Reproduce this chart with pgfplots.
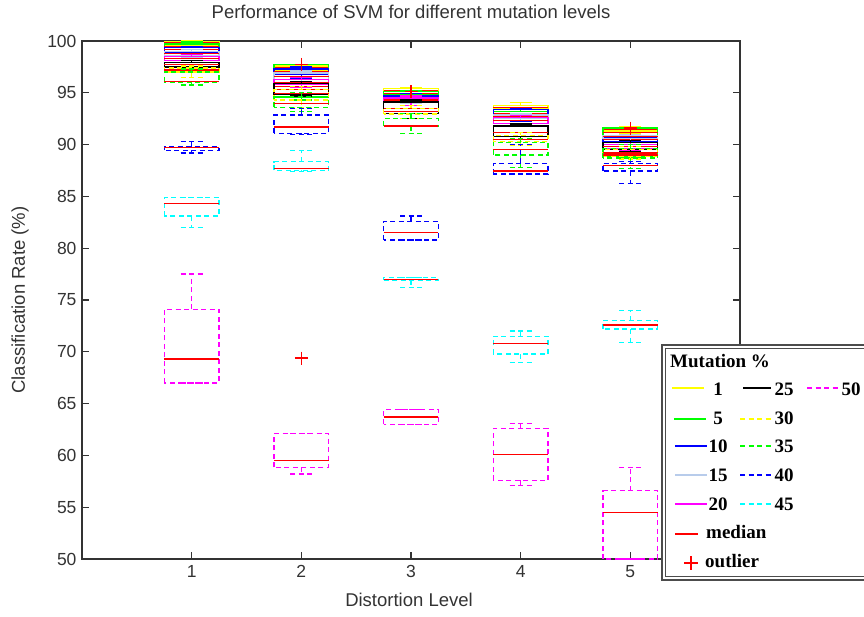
\documentclass[border=0pt]{standalone}
\usepackage{pgfplots}
\pgfplotsset{compat=1.18}
\usepgfplotslibrary{statistics}
\usepackage{fontspec}
\setmainfont{Liberation Sans}
\newfontfamily\legendfont{Liberation Serif}

\definecolor{cYel}{rgb}{1,1,0}
\definecolor{cGrn}{rgb}{0,1,0}
\definecolor{cBlu}{rgb}{0,0,1}
\definecolor{cLbl}{rgb}{0.72,0.80,0.92}
\definecolor{cMag}{rgb}{1,0,1}
\definecolor{cCyn}{rgb}{0,1,1}
\definecolor{cRed}{rgb}{1,0,0}
\definecolor{axgray}{rgb}{0.2,0.2,0.2}

% one prepared box: style, position, lower whisker, q1, median, q3, upper whisker
\newcommand{\bx}[7]{%
  \addplot[#1, boxplot prepared={draw position=#2, lower whisker=#3,
    lower quartile=#4, median=#5, upper quartile=#6, upper whisker=#7}]
    coordinates {};}

\tikzset{dsh/.style={dash pattern=on 5pt off 3.5pt}}

\pgfplotsset{
  mbox/.style={line width=1.3pt, boxplot/draw direction=y,
    boxplot/box extend=0.5, boxplot/whisker extend=0.2,
    boxplot/every box/.style={line width=1.3pt},
    boxplot/every whisker/.style={line width=1.3pt},
    boxplot/every median/.style={draw=cRed, solid, line width=1.3pt}},
  m1/.style={mbox, color=cYel, solid},
  m5/.style={mbox, color=cGrn, solid},
  m10/.style={mbox, color=cBlu, solid},
  m15/.style={mbox, color=cLbl, solid},
  m20/.style={mbox, color=cMag, solid},
  m25/.style={mbox, color=black, solid},
  m30/.style={mbox, color=cYel, dsh},
  m35/.style={mbox, color=cGrn, dsh},
  m40/.style={mbox, color=cBlu, dsh},
  m45/.style={mbox, color=cCyn, dsh},
  m50/.style={mbox, color=cMag, dsh},
}

\newcommand{\lf}{\legendfont\bfseries\fontsize{19}{22}\selectfont}

\begin{document}
\begin{tikzpicture}
\path[use as bounding box] (-82pt,-57pt) rectangle (782pt,559pt);
\begin{axis}[
  at={(0pt,0pt)}, anchor=south west,
  width=658pt, height=518pt, scale only axis,
  xmin=0, xmax=6, ymin=50, ymax=100,
  xtick={1,2,3,4,5}, ytick={50,55,...,100},
  tick align=inside, tick pos=both,
  major tick length=7pt,
  axis line style={draw=axgray, line width=1.1pt},
  every tick/.style={draw=axgray, line width=1.1pt},
  /pgf/number format/assume math mode=true,
  tick label style={font=\fontsize{17.5}{20}\selectfont, text=axgray},
  yticklabel style={xshift=-2pt},
  xticklabel style={yshift=-3pt},
  title={Performance of SVM for different mutation levels},
  title style={at={(axis description cs:0.5,1.044)}, anchor=center,
    font=\fontsize{18.5}{22}\selectfont, text=axgray},
  xlabel={Distortion Level},
  ylabel={Classification Rate (\%)},
  every axis x label/.style={at={(axis description cs:0.497,-0.079)}, anchor=center,
    font=\fontsize{18.5}{22}\selectfont, text=axgray},
  every axis y label/.style={at={(axis description cs:-0.094,0.5)}, anchor=center,
    rotate=90, font=\fontsize{18.5}{22}\selectfont, text=axgray},
  clip=true,
]
% mutation 1 %
\bx{m1}{1}{99.4}{99.6}{99.8}{99.95}{100}
\bx{m1}{2}{96.8}{97.2}{97.4}{97.6}{97.7}
\bx{m1}{3}{94.9}{95.1}{95.25}{95.4}{95.5}
\bx{m1}{4}{93.4}{93.5}{93.6}{93.75}{94.05}
\bx{m1}{5}{91.1}{91.3}{91.45}{91.6}{91.7}
% mutation 5 %
\bx{m5}{1}{99.0}{99.2}{99.45}{99.7}{99.9}
\bx{m5}{2}{94.3}{94.6}{95.6}{97.7}{97.7}
\bx{m5}{3}{94.6}{94.8}{94.9}{95.1}{95.2}
\bx{m5}{4}{92.6}{92.8}{93.0}{93.2}{93.4}
\bx{m5}{5}{88.8}{88.85}{91.2}{91.6}{91.6}
% mutation 10 %
\bx{m10}{1}{98.7}{98.9}{99.2}{99.4}{99.5}
\bx{m10}{2}{96.4}{96.8}{97.0}{97.3}{97.5}
\bx{m10}{3}{94.2}{94.4}{94.55}{94.7}{94.9}
\bx{m10}{4}{92.2}{92.5}{92.9}{93.4}{93.5}
\bx{m10}{5}{90.0}{90.3}{90.5}{90.7}{90.9}
% mutation 15 %
\bx{m15}{1}{98.4}{98.6}{98.8}{99.0}{99.2}
\bx{m15}{2}{95.9}{96.3}{96.55}{96.9}{97.1}
\bx{m15}{3}{94.0}{94.2}{94.35}{94.5}{94.7}
\bx{m15}{4}{92.3}{92.5}{92.7}{92.85}{93.0}
\bx{m15}{5}{90.4}{90.6}{90.75}{90.9}{91.0}
% mutation 20 %
\bx{m20}{1}{97.9}{98.1}{98.3}{98.5}{98.7}
\bx{m20}{2}{95.5}{95.8}{96.0}{96.3}{96.5}
\bx{m20}{3}{93.8}{94.1}{94.3}{94.5}{94.7}
\bx{m20}{4}{91.9}{92.05}{92.3}{92.6}{92.8}
\bx{m20}{5}{89.4}{89.6}{89.8}{90.0}{90.2}
% mutation 25 %
\bx{m25}{1}{97.2}{97.5}{97.7}{97.9}{98.1}
\bx{m25}{2}{94.7}{94.85}{95.3}{95.9}{96.1}
\bx{m25}{3}{92.55}{93.0}{93.5}{94.1}{94.3}
\bx{m25}{4}{90.5}{90.75}{91.2}{91.8}{92.0}
\bx{m25}{5}{89.3}{89.5}{89.85}{90.2}{90.4}
% mutation 30 %
\bx{m30}{1}{96.5}{97.0}{97.2}{97.4}{97.6}
\bx{m30}{2}{93.6}{94.3}{94.9}{95.3}{95.6}
\bx{m30}{3}{92.5}{92.95}{93.2}{93.5}{93.8}
\bx{m30}{4}{89.9}{90.3}{90.5}{90.9}{91.2}
\bx{m30}{5}{88.6}{88.85}{89.2}{89.5}{89.8}
% mutation 35 %
\bx{m35}{1}{95.75}{96.05}{96.1}{97.0}{97.3}
\bx{m35}{2}{93.2}{93.6}{94.0}{94.6}{95.0}
\bx{m35}{3}{91.1}{91.8}{91.8}{92.5}{93.0}
\bx{m35}{4}{87.8}{89.0}{89.5}{90.2}{90.6}
\bx{m35}{5}{87.7}{88.7}{89.0}{89.6}{90.0}
% mutation 40 %
\bx{m40}{1}{89.2}{89.45}{89.7}{89.8}{90.3}
\bx{m40}{2}{91.0}{91.1}{91.7}{92.85}{93.5}
\bx{m40}{3}{80.8}{80.8}{81.5}{82.6}{83.1}
\bx{m40}{4}{87.15}{87.15}{87.45}{88.2}{90.0}
\bx{m40}{5}{86.25}{87.45}{88.0}{88.2}{88.4}
% mutation 45 %
\bx{m45}{1}{82.0}{83.1}{84.3}{84.9}{84.9}
\bx{m45}{2}{87.4}{87.5}{87.7}{88.35}{89.4}
\bx{m45}{3}{76.2}{76.9}{77.0}{77.2}{77.2}
\bx{m45}{4}{69.0}{69.8}{70.8}{71.5}{72.0}
\bx{m45}{5}{70.9}{72.2}{72.6}{73.0}{74.0}
% mutation 50 %
\bx{m50}{1}{67.0}{67.0}{69.3}{74.1}{77.5}
\bx{m50}{2}{58.2}{58.85}{59.5}{62.1}{62.1}
\bx{m50}{3}{63.0}{63.0}{63.7}{64.4}{64.4}
\bx{m50}{4}{57.1}{57.6}{60.1}{62.6}{63.1}
\bx{m50}{5}{50.0}{50.0}{54.5}{56.6}{58.8}
% outliers
\addplot[only marks, mark=+, mark size=6.5pt, cRed, line width=1.2pt]
  coordinates {(2,97.75) (2,69.4) (3,95.1) (5,91.6)};
\end{axis}

% legend box, drawn in pixel-like units from the top-left corner
\begin{scope}[x=1pt, y=-1pt, shift={(-82pt,559pt)}]
  \fill[white] (662,345) rectangle (890,580);
  \draw[black!70, line width=1.2pt] (662,345) rectangle (890,580);
  \draw[black!70, line width=1pt] (665.5,348.5) rectangle (886,576.5);
  \node[anchor=base west, inner sep=0, font=\lf] at (670,367) {Mutation \%};
  % column 1
  \draw[cYel, line width=1.3pt] (672,388) -- (704,388);
  \node[anchor=base, inner sep=0, font=\lf] at (718,395) {1};
  \draw[cGrn, line width=1.3pt] (674,419) -- (706,419);
  \node[anchor=base, inner sep=0, font=\lf] at (718,424) {5};
  \draw[cBlu, line width=1.3pt] (675,446) -- (707,446);
  \node[anchor=base, inner sep=0, font=\lf] at (718,452) {10};
  \draw[cLbl, line width=1.3pt] (675,475) -- (707,475);
  \node[anchor=base, inner sep=0, font=\lf] at (718,481) {15};
  \draw[cMag, line width=1.3pt] (675,504) -- (707,504);
  \node[anchor=base, inner sep=0, font=\lf] at (718,510) {20};
  \draw[cRed, line width=1.3pt] (675,534) -- (698,534);
  \node[anchor=base west, inner sep=0, font=\lf] at (706,538) {median};
  \draw[cRed, line width=1.3pt] (684,563) -- (698,563) (691,556) -- (691,570);
  \node[anchor=base west, inner sep=0, font=\lf] at (705,567) {outlier};
  % column 2
  \draw[black, line width=1.3pt] (743,388) -- (771,388);
  \node[anchor=base, inner sep=0, font=\lf] at (784,395) {25};
  \draw[cYel, line width=1.3pt, dsh] (740,419) -- (773,419);
  \node[anchor=base, inner sep=0, font=\lf] at (784,424) {30};
  \draw[cGrn, line width=1.3pt, dsh] (740,446) -- (773,446);
  \node[anchor=base, inner sep=0, font=\lf] at (784,452) {35};
  \draw[cBlu, line width=1.3pt, dsh] (740,475) -- (773,475);
  \node[anchor=base, inner sep=0, font=\lf] at (784,481) {40};
  \draw[cCyn, line width=1.3pt, dsh] (740,504) -- (773,504);
  \node[anchor=base, inner sep=0, font=\lf] at (784,510) {45};
  % column 3
  \draw[cMag, line width=1.3pt, dsh] (807,388) -- (840,388);
  \node[anchor=base, inner sep=0, font=\lf] at (851,395) {50};
\end{scope}
\end{tikzpicture}
\end{document}
